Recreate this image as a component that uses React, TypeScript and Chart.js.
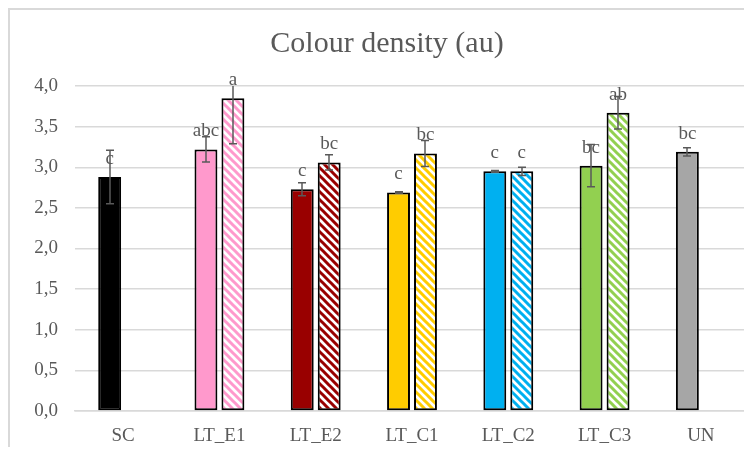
import React, { useEffect, useRef } from 'react';
import { Chart, registerables } from 'chart.js';

Chart.register(...registerables);

const TITLE = 'Colour density (au)';
const categories = ['SC', 'LT_E1', 'LT_E2', 'LT_C1', 'LT_C2', 'LT_C3', 'UN'];

// first bar of each group (solid fill)
const solidValues = [2.88, 3.22, 2.73, 2.69, 2.95, 3.02, 3.19];
const solidErrors = [0.33, 0.155, 0.08, 0.01, 0.01, 0.26, 0.05];
const solidLetters = ['c', 'abc', 'c', 'c', 'c', 'bc', 'bc'];

// second bar of each group (striped fill)
const stripedValues = [null, 3.85, 3.06, 3.17, 2.95, 3.67, null];
const stripedErrors = [null, 0.56, 0.095, 0.16, 0.05, 0.2, null];
const stripedLetters = ['', 'a', 'bc', 'bc', 'c', 'ab', ''];

const groupColors = ['#000000', '#FF99CC', '#990000', '#FFCC00', '#00B0F0', '#92D050', '#A6A6A6'];

const yMin = 0;
const yMax = 4;
const yStep = 0.5;

const TEXT = '#595959';
const GRID = '#d9d9d9';
const SERIF = '"Liberation Serif", "Times New Roman", serif';

function stripePattern(color: string): CanvasPattern | string {
  const tile = document.createElement('canvas');
  tile.width = 8;
  tile.height = 8;
  const g = tile.getContext('2d');
  if (!g) return color;
  g.fillStyle = '#ffffff';
  g.fillRect(0, 0, 8, 8);
  g.strokeStyle = color;
  g.lineWidth = 3;
  g.beginPath();
  g.moveTo(-2, -2);
  g.lineTo(10, 10);
  g.moveTo(-4, 4);
  g.lineTo(4, 12);
  g.moveTo(4, -4);
  g.lineTo(12, 4);
  g.stroke();
  return g.createPattern(tile, 'repeat') || color;
}

const errorsAndLabels = {
  id: 'errorsAndLabels',
  afterDatasetsDraw(chart: any) {
    const { ctx, chartArea, scales } = chart;
    const y = scales.y;
    const errs = [solidErrors, stripedErrors];
    const letters = [solidLetters, stripedLetters];
    const values = [solidValues, stripedValues];

    ctx.save();
    ctx.beginPath();
    ctx.rect(chartArea.left, chartArea.top, chartArea.right - chartArea.left, chartArea.bottom - chartArea.top);
    ctx.clip();
    ctx.strokeStyle = TEXT;
    ctx.lineWidth = 1.5;
    for (let d = 0; d < 2; d++) {
      const meta = chart.getDatasetMeta(d);
      meta.data.forEach((bar: any, i: number) => {
        const v = values[d][i];
        const e = errs[d][i];
        if (v == null || e == null) return;
        const x = Math.round(bar.x);
        const yt = y.getPixelForValue(v + e);
        const yb = y.getPixelForValue(v - e);
        ctx.beginPath();
        ctx.moveTo(x, yt);
        ctx.lineTo(x, yb);
        ctx.moveTo(x - 4, yt);
        ctx.lineTo(x + 4, yt);
        ctx.moveTo(x - 4, yb);
        ctx.lineTo(x + 4, yb);
        ctx.stroke();
      });
    }
    ctx.restore();

    ctx.save();
    ctx.fillStyle = TEXT;
    ctx.font = `19px ${SERIF}`;
    ctx.textAlign = 'center';
    ctx.textBaseline = 'alphabetic';
    for (let d = 0; d < 2; d++) {
      const meta = chart.getDatasetMeta(d);
      meta.data.forEach((bar: any, i: number) => {
        const v = values[d][i];
        const t = letters[d][i];
        if (v == null || !t) return;
        ctx.fillText(t, bar.x, bar.y - 13);
      });
    }
    ctx.restore();
  },
  afterDraw(chart: any) {
    const { ctx } = chart;
    ctx.save();
    ctx.fillStyle = TEXT;
    ctx.font = `30px ${SERIF}`;
    ctx.textAlign = 'center';
    ctx.textBaseline = 'alphabetic';
    ctx.fillText(TITLE, 377, 42);
    ctx.restore();
  },
};

export default function App() {
  const ref = useRef<HTMLCanvasElement>(null);

  useEffect(() => {
    document.body.style.overflow = 'hidden';
    const canvas = ref.current;
    if (!canvas) return;
    const chart = new Chart(canvas, {
      type: 'bar',
      data: {
        labels: categories,
        datasets: [
          {
            label: 'solid',
            data: solidValues,
            backgroundColor: groupColors,
            borderColor: '#000000',
            borderWidth: 2,
            borderSkipped: false,
            categoryPercentage: 0.56,
            barPercentage: 0.85,
          },
          {
            label: 'striped',
            data: stripedValues as any,
            backgroundColor: groupColors.map((c) => stripePattern(c)) as any,
            borderColor: '#000000',
            borderWidth: 2,
            borderSkipped: false,
            categoryPercentage: 0.56,
            barPercentage: 0.85,
          },
        ],
      },
      options: {
        animation: false,
        responsive: false,
        devicePixelRatio: 1,
        layout: { padding: { top: 76, left: 0, right: 3, bottom: 0 } },
        plugins: {
          legend: { display: false },
          title: { display: false },
          tooltip: { enabled: false },
        },
        scales: {
          x: {
            grid: { display: false, drawTicks: false },
            border: { display: true, color: GRID, width: 1.5 },
            ticks: {
              color: TEXT,
              font: { family: SERIF, size: 19 },
              padding: 14,
              maxRotation: 0,
            },
            afterFit(scale: any) {
              scale.height = 36;
            },
          },
          y: {
            min: yMin,
            max: yMax,
            grid: { color: GRID, lineWidth: 1.5, drawTicks: false },
            border: { display: false },
            ticks: {
              stepSize: yStep,
              color: TEXT,
              font: { family: SERIF, size: 19 },
              padding: 17,
              callback: (v: any) => Number(v).toFixed(1).replace('.', ','),
            },
            afterFit(scale: any) {
              scale.width = 65;
            },
          },
        },
      },
      plugins: [errorsAndLabels],
    });
    return () => chart.destroy();
  }, []);

  return (
    <div
      style={{
        width: 744,
        height: 439,
        boxSizing: 'border-box',
        borderTop: `2px solid ${GRID}`,
        borderLeft: `2px solid ${GRID}`,
        overflow: 'hidden',
      }}
    >
      <canvas ref={ref} width={742} height={437} style={{ display: 'block' }} />
    </div>
  );
}
